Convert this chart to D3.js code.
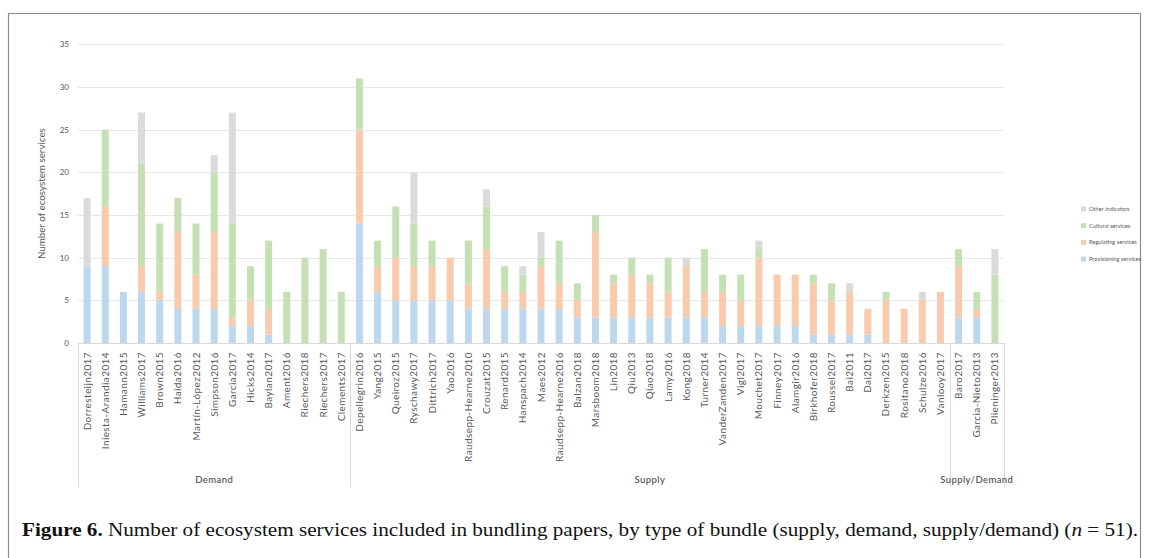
<!DOCTYPE html>
<html><head><meta charset="utf-8">
<script src="https://cdn.jsdelivr.net/npm/d3@7"></script>
<style>
html,body{margin:0;padding:0;background:#fff;}
svg{display:block;}
</style></head>
<body>
<svg id="chart" width="1153" height="558"></svg>
<script>
const papers = ["Dorresteijn2017","Iniesta-Arandia2014","Hamann2015","Williams2017","Brown2015","Haida2016","Martín-López2012","Simpson2016","Garcia2017","Hicks2014","Baylan2017","Ament2016","Riechers2018","Riechers2017","Clements2017",
"Depellegrin2016","Yang2015","Queiroz2015","Ryschawy2017","Dittrich2017","Yao2016","Raudsepp-Hearne2010","Crouzat2015","Renard2015","Hanspach2014","Maes2012","Raudsepp-Hearne2016","Balzan2018","Marsboom2018","Lin2018","Qiu2013","Qiao2018","Lamy2016","Kong2018","Turner2014","VanderZanden2017","Vigl2017","Mouchet2017","Finney2017","Alamgir2016","Birkhofer2018","Roussel2017","Bai2011","Dai2017","Derkzen2015","Rositano2018","Schulze2016","Vanlooy2017",
"Baro2017","Garcia-Nieto2013","Plieninger2013"];
const bundleTypes = ["Demand","Supply","Supply/Demand"];
const bundleCounts = [15, 33, 3];
const provisioning = [9,9,6,6,5,4,4,4,2,2,1,0,0,0,0, 14,6,5,5,5,5,4,4,4,4,4,4,3,3,3,3,3,3,3,3,2,2,2,2,2,1,1,1,1,0,0,0,0, 3,3,0];
const regulating   = [0,7,0,3,1,9,4,9,1,3,3,0,0,0,0, 11,3,5,4,4,5,3,7,2,2,5,3,2,10,4,5,4,3,6,3,4,3,8,6,6,6,4,5,3,5,4,5,6, 6,1,0];
const cultural     = [0,9,0,12,8,4,6,7,11,4,8,6,10,11,6, 6,3,6,5,3,0,5,5,3,2,1,5,2,2,1,2,1,4,0,5,2,3,1,0,0,1,2,0,0,1,0,0,0, 2,2,8];
const other        = [8,0,0,6,0,0,0,2,13,0,0,0,0,0,0, 0,0,0,6,0,0,0,2,0,1,3,0,0,0,0,0,0,0,1,0,0,0,1,0,0,0,0,1,0,0,0,1,0, 0,0,3];
const seriesNames = ["Provisioning services","Regulating services","Cultural services","Other indicators"];
const seriesColors = ["#bdd7ee","#f8cbad","#c5e0b4","#dbdbdb"];
const yTicks = [0,5,10,15,20,25,30,35];

(function(){
const svg = d3.select("#chart");
const pl = 78, pr = 1004, pt = 44.3, pb = 343;
const textCol = "#595959";
const font = "Lato, 'Open Sans', sans-serif";

// frame
svg.append("path").attr("d","M8.5,558 V13.5 H1140.5 V558").attr("fill","none").attr("stroke","#8c8c8c").attr("stroke-width",1.2);

const x = d3.scaleBand().domain(papers).range([pl,pr]).paddingInner(0.6).paddingOuter(0.3);
const y = d3.scaleLinear().domain([0,35]).range([pb,pt]);

// gridlines
svg.append("g").selectAll("line").data(yTicks.slice(1)).join("line")
  .attr("x1",pl).attr("x2",pr).attr("y1",d=>Math.round(y(d))+0.5).attr("y2",d=>Math.round(y(d))+0.5)
  .attr("stroke","#e7e7e7").attr("stroke-width",1);

// y axis
const yAxis = d3.axisLeft(y).tickValues(yTicks).tickSize(0).tickPadding(9);
const gy = svg.append("g").attr("transform",`translate(${pl},0)`).call(yAxis);
gy.select(".domain").remove();
gy.selectAll("text").attr("fill",textCol).attr("font-family",font).attr("font-size",8);

svg.append("text").attr("transform",`translate(42,${(pt+pb)/2}) rotate(-90)`)
  .attr("text-anchor","middle").attr("dy","0.35em").attr("fill",textCol).attr("font-family",font).attr("font-size",9.8)
  .text("Number of ecosystem services");

// stacked bars
const rows = papers.map((p,i)=>({paper:p, "Provisioning services":provisioning[i], "Regulating services":regulating[i], "Cultural services":cultural[i], "Other indicators":other[i]}));
const stack = d3.stack().keys(seriesNames)(rows);
const bw = 7;
svg.append("g").selectAll("g").data(stack).join("g").attr("fill",(d,i)=>seriesColors[i])
  .selectAll("rect").data(d=>d).join("rect")
  .attr("x",d=>x(d.data.paper)+x.bandwidth()/2-bw/2).attr("width",bw)
  .attr("y",d=>y(d[1])).attr("height",d=>y(d[0])-y(d[1]));

// baseline
svg.append("line").attr("x1",pl).attr("x2",pr).attr("y1",pb+0.5).attr("y2",pb+0.5).attr("stroke","#d9d9d9");

// category labels
const xAxis = d3.axisBottom(x).tickSize(0).tickPadding(0);
const gx = svg.append("g").attr("transform",`translate(0,${pb})`).call(xAxis);
gx.select(".domain").remove();
gx.selectAll("text").attr("fill",textCol).attr("font-family",font).attr("font-size",10).attr("letter-spacing",0.4)
  .attr("text-anchor","end").attr("transform","translate(3.5,9) rotate(-90)").attr("dy",0).attr("x",0).attr("y",0);

// group separators and labels
const step = x.step();
let cum = 0;
const bounds = [0];
bundleCounts.forEach(c=>{cum+=c; bounds.push(cum);});
svg.append("g").selectAll("line").data(bounds).join("line")
  .attr("x1",d=>Math.round(pl+d*step)+0.5).attr("x2",d=>Math.round(pl+d*step)+0.5)
  .attr("y1",pb).attr("y2",487).attr("stroke","#d9d9d9");
svg.append("g").selectAll("text").data(bundleTypes).join("text")
  .attr("x",(d,i)=>pl+(bounds[i]+bounds[i+1])/2*step).attr("y",480).attr("dy","0.35em")
  .attr("text-anchor","middle").attr("fill",textCol).attr("font-family",font).attr("font-size",9.5).attr("font-weight",600).attr("letter-spacing",0.4)
  .text(d=>d);

// legend
const legendOrder = [3,2,1,0];
const lg = svg.append("g").selectAll("g").data(legendOrder).join("g")
  .attr("transform",(d,i)=>`translate(1081,${209+i*16.7})`);
lg.append("rect").attr("x",0).attr("y",-2.5).attr("width",5).attr("height",5).attr("fill",d=>seriesColors[d]);
lg.append("text").attr("x",8).attr("dy","0.35em").attr("fill",textCol).attr("font-family",font).attr("font-size",5.7).text(d=>seriesNames[d]);

// caption
const cap = svg.append("text").attr("x",22).attr("y",536).attr("font-family","'Liberation Serif', serif").attr("font-size",19.5).attr("fill","#111")
  .attr("textLength",1116).attr("lengthAdjust","spacingAndGlyphs");
cap.append("tspan").attr("font-weight","bold").text("Figure 6.");
cap.append("tspan").text(" Number of ecosystem services included in bundling papers, by type of bundle (supply, demand, supply/demand) (");
cap.append("tspan").attr("font-style","italic").text("n");
cap.append("tspan").text(" = 51).");
})();
</script>
</body></html>
